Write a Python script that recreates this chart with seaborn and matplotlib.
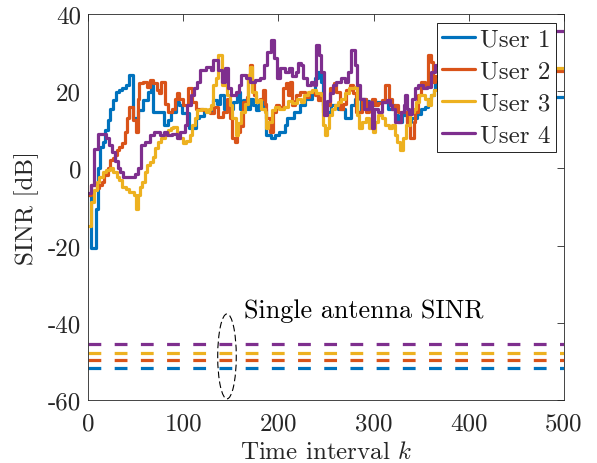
import matplotlib
matplotlib.use("Agg")
import matplotlib.pyplot as plt
from matplotlib.patches import Ellipse
from matplotlib.lines import Line2D
import pandas as pd
import seaborn as sns

# ---- data ---------------------------------------------------------------
users = ["User 1", "User 2", "User 3", "User 4"]
colors = ["#0072BD", "#D95319", "#EDB120", "#7E2F8E"]
k_end = 500

# Change points (time interval k) and the SINR [dB] held from each point on
k_user1 = [0, 3, 8, 10, 13, 16, 18, 21, 23, 26, 29, 33, 36, 40, 43, 47, 52, 58, 63,
           66, 68, 80, 84, 87, 92, 96, 99, 106, 113, 117, 122, 131, 135, 139, 143,
           152, 157, 160, 163, 167, 170, 173, 177, 180, 184, 187, 192, 196, 201,
           207, 209, 216, 223, 228, 235, 238, 242, 245, 247, 251, 255, 263, 270,
           276, 280, 283, 287, 292, 295, 299, 302, 315, 319, 323, 326, 330, 335,
           339, 346, 350, 354, 357, 360, 363, 365, 370, 380, 392, 405, 418, 430,
           442, 455, 468, 480, 490]
sinr_user1 = [-7, -20.5, -10.4, 0, 5.6, 6.9, 9.9, 12.5, 15.5, 17.7, 19.9, 20.3, 20.7,
              21.6, 24.2, 13, 15.1, 17.7, 19.9, 21.6, 14.7, 11.2, 12.5, 14.7, 17.3,
              16.4, 14.3, 10.4, 13, 13.5, 15.1, 17.7, 16.8, 19, 15.5, 17.3, 19.9,
              15.5, 17.7, 15.5, 18, 16.4, 15.1, 17.7, 15.5, 8.6, 7.8, 8.6, 9.5, 11.2,
              13, 14.7, 16.4, 18.1, 19.8, 23.3, 25, 22.5, 16.4, 14.7, 16.4, 15.5, 13,
              16.4, 18.1, 14.7, 18.1, 17.5, 16.8, 16.4, 17.3, 15.5, 16.4, 13.8, 12.1,
              13.8, 12.1, 13, 14, 15.5, 16, 18.1, 19, 20.3, 22.5, 21, 19, 22, 20, 23,
              21, 19, 22, 20, 21, 18.6]

k_user2 = [0, 3, 9, 12, 15, 17, 21, 23, 26, 28, 30, 33, 36, 39, 41, 43, 47, 50, 52,
           54, 58, 62, 65, 68, 72, 75, 77, 81, 84, 88, 91, 94, 96, 100, 105, 109,
           113, 121, 128, 132, 137, 142, 146, 149, 151, 154, 156, 160, 163, 167,
           168, 170, 172, 174, 177, 181, 184, 186, 187, 191, 194, 198, 201, 205,
           208, 210, 212, 214, 217, 219, 223, 228, 232, 238, 242, 245, 247, 250,
           254, 258, 261, 265, 268, 271, 275, 278, 281, 288, 292, 295, 298, 302,
           305, 309, 312, 316, 319, 323, 326, 335, 338, 342, 344, 347, 350, 354,
           357, 360, 362, 364, 370, 383, 395, 408, 420, 433, 445, 458, 470, 482,
           490]
sinr_user2 = [-7, -4.3, -5.2, -4.3, -3.5, -1.7, 0, 2.2, 2.6, 3.5, 4.8, 5.6, 6.5, 9.5,
              13, 16, 12.5, 9.5, 18.1, 22, 22.5, 21.2, 22.9, 22, 20.3, 19.5, 22.5,
              16.8, 14.7, 15.5, 18.1, 19.5, 18.1, 16.4, 20.7, 17.3, 15.5, 15, 14.3,
              16, 13.4, 14.5, 18.1, 13, 7.8, 6.9, 9.5, 11, 17.3, 18.5, 24.2, 26.8,
              22.5, 19, 17.7, 18.1, 20.3, 16.8, 13, 9.5, 14.7, 16.4, 15.9, 20.7, 22,
              19, 22.5, 16.4, 17.5, 19, 19.8, 18.6, 19.9, 18.9, 17.7, 19, 14.7, 16.4,
              20.7, 22, 19.9, 15.5, 16.8, 20.3, 21.6, 19.5, 14.7, 18.1, 14.7, 16.4,
              18.1, 16.4, 17, 17.7, 21.6, 18.1, 15.5, 16.4, 14.7, 11.2, 7.8, 12,
              14.7, 19, 22.5, 21.2, 29.4, 27.6, 22.5, 24, 22, 24, 21, 25, 23, 26, 22,
              24, 27, 24, 25.3]

k_user3 = [0, 3, 6, 9, 12, 16, 19, 23, 26, 30, 33, 36, 40, 43, 48, 50, 52, 55, 57,
           60, 62, 65, 68, 70, 74, 77, 81, 84, 87, 89, 93, 96, 100, 103, 107, 109,
           112, 115, 119, 124, 127, 129, 131, 134, 137, 141, 146, 149, 151, 155,
           158, 161, 165, 168, 170, 172, 176, 179, 182, 186, 187, 189, 193, 196,
           201, 206, 210, 214, 220, 224, 227, 231, 235, 240, 245, 247, 249, 251,
           253, 256, 259, 263, 266, 270, 274, 280, 283, 285, 288, 292, 295, 299,
           302, 305, 309, 312, 316, 319, 323, 325, 328, 331, 334, 338, 342, 345,
           348, 354, 357, 360, 363, 370, 380, 392, 404, 416, 428, 440, 452, 465,
           478, 490]
sinr_user3 = [-15, -8.6, -5.6, -3.5, -2.2, -0.9, -0.4, 0, -0.9, -2.2, -3, -4.7, -5.3,
              -6, -6.9, -10.4, -6.9, -4.7, -3.5, -1, 0.9, 1.7, 3, 5.2, 6.9, 7.8, 9.1,
              9.9, 10.4, 10.8, 8.6, 7.8, 6.5, 7, 8.6, 11.2, 13, 15.1, 15.5, 14.7,
              15.5, 16.4, 21.6, 23.3, 29.4, 21.6, 19, 16.4, 13, 8.6, 11.7, 14.7,
              16.8, 24.2, 26.3, 19.9, 17.3, 17.7, 15.5, 14.7, 10.4, 12, 15.1, 16,
              15.5, 16, 17.5, 17, 18.1, 17.3, 19, 19.7, 20.3, 19.5, 19, 11.2, 8.6,
              10.4, 13.8, 15.5, 16.4, 17.3, 18.1, 19.5, 20.7, 21.2, 13.8, 10.4, 12,
              13, 10.4, 9.5, 12, 13.8, 13, 11.2, 10.4, 11.2, 8.6, 6.9, 4.8, 7.8,
              11.2, 14.7, 15.5, 17.3, 19, 18.1, 16.4, 19, 20.3, 19, 21, 18, 22, 20,
              23, 21, 24, 22, 25, 26]

k_user4 = [0, 3, 6, 10, 19, 22, 25, 28, 31, 34, 37, 49, 53, 56, 60, 65, 69, 76, 80,
           83, 88, 93, 97, 102, 104, 108, 111, 115, 118, 124, 129, 131, 137, 141,
           144, 147, 150, 155, 159, 161, 166, 170, 175, 181, 185, 188, 192, 195,
           199, 202, 207, 211, 214, 218, 221, 224, 226, 230, 234, 237, 239, 243,
           245, 248, 251, 254, 257, 260, 266, 270, 273, 276, 280, 283, 286, 290,
           295, 298, 300, 305, 309, 314, 317, 319, 322, 329, 332, 333, 335, 337,
           340, 344, 347, 352, 356, 360, 364, 372, 385, 398, 410, 422, 435, 448,
           460, 472, 484, 490]
sinr_user4 = [-6.5, -4.3, 5, 9, 7.8, 6, 4.3, 2, 0, -1, -2.2, -1.5, 0, 6, 6.9, 8.6,
              9.5, 8.6, 9.5, 8.6, 9, 7.8, 9.5, 11.2, 16.4, 19, 20.7, 22.5, 25.5,
              26.3, 25.5, 28, 25.5, 22.5, 25.9, 20.7, 19, 19.9, 21.6, 24.2, 23.3,
              22.5, 22.9, 23.3, 26.8, 30.2, 33.2, 28.5, 23.3, 25.9, 25, 25.9, 24, 25,
              27.2, 26.8, 23.3, 21.6, 22.5, 21.6, 32, 29.5, 25, 13.8, 17.5, 19.5,
              21.6, 22.5, 23.3, 22.5, 25, 30.7, 26.8, 21.6, 18.1, 15.5, 17.3, 10.4,
              15.5, 14.7, 17.3, 17.7, 16.4, 15.5, 12, 14.7, 16.4, 19, 15.5, 14.2,
              18.1, 20.7, 21.6, 20.7, 21, 25, 26.8, 28, 30, 27, 31, 29, 32, 30, 33,
              31, 34, 35.5]

# Constant SINR reached with a single antenna, per user
single_antenna_sinr = [-51.7, -49.7, -47.7, -45.6]

# ---- frames -------------------------------------------------------------
ks = [k_user1, k_user2, k_user3, k_user4]
vals = [sinr_user1, sinr_user2, sinr_user3, sinr_user4]
rows = []
for user, k, v in zip(users, ks, vals):
    for kk, vv in zip(list(k) + [k_end], list(v) + [v[-1]]):
        rows.append({"user": user, "k": kk, "sinr": vv})
df = pd.DataFrame(rows)

single_rows = []
for user, v in zip(users, single_antenna_sinr):
    for kk in (0, k_end):
        single_rows.append({"user": user, "k": kk, "sinr": v})
df_single = pd.DataFrame(single_rows)

# ---- style --------------------------------------------------------------
sns.set_theme(style="white")
plt.rcParams["font.family"] = ["cmr10"]
plt.rcParams["mathtext.fontset"] = "cm"
plt.rcParams["axes.unicode_minus"] = False
plt.rcParams["axes.formatter.use_mathtext"] = False

fs = 18
ink = "#262626"

fig = plt.figure(figsize=(5.97, 4.64), dpi=100)
ax = fig.add_axes([0.1474, 0.1358, 0.7973, 0.8319])

palette = dict(zip(users, colors))
lw = 2.3

sns.lineplot(data=df, x="k", y="sinr", hue="user", palette=palette,
             estimator=None, sort=False, drawstyle="steps-post",
             linewidth=lw, legend=False, ax=ax)

sns.lineplot(data=df_single, x="k", y="sinr", hue="user", palette=palette,
             estimator=None, sort=False, linewidth=lw,
             linestyle=(0, (4.0, 4.2)), dash_capstyle="butt",
             legend=False, ax=ax)

# Marker around the single-antenna curves
ax.add_patch(Ellipse((146, -48.7), 19.5, 22, fill=False, edgecolor="black",
                     linewidth=0.8, linestyle=(0, (6, 3))))
ax.text(164, -38.4, "Single antenna SINR", fontsize=18.8, va="baseline",
        ha="left", color="black")

ax.set_xlim(0, 500)
ax.set_ylim(-60, 40)
ax.set_xticks([0, 100, 200, 300, 400, 500])
ax.set_yticks([-60, -40, -20, 0, 20, 40])
ax.set_xlabel(r"Time interval $k$", fontsize=fs, color=ink, labelpad=4.5)
ax.set_ylabel("SINR [dB]", fontsize=fs, color=ink, labelpad=6)
ax.tick_params(direction="in", top=True, right=True, length=5, width=0.6,
               colors=ink, labelsize=fs)
ax.tick_params(axis="x", pad=9)
ax.tick_params(axis="y", pad=5)
for sp in ax.spines.values():
    sp.set_color(ink)
    sp.set_linewidth(0.6)

handles = [Line2D([0], [0], color=c, lw=lw) for c in colors]
leg = ax.legend(handles, users, loc="upper right",
                bbox_to_anchor=(0.9826, 0.9767), borderaxespad=0,
                fontsize=fs, frameon=True, fancybox=False, framealpha=1,
                edgecolor="black", handlelength=1.3, handletextpad=0.2,
                labelspacing=0.38, borderpad=0.22)
leg.get_frame().set_linewidth(0.6)

fig.savefig("out.png", dpi=100)
